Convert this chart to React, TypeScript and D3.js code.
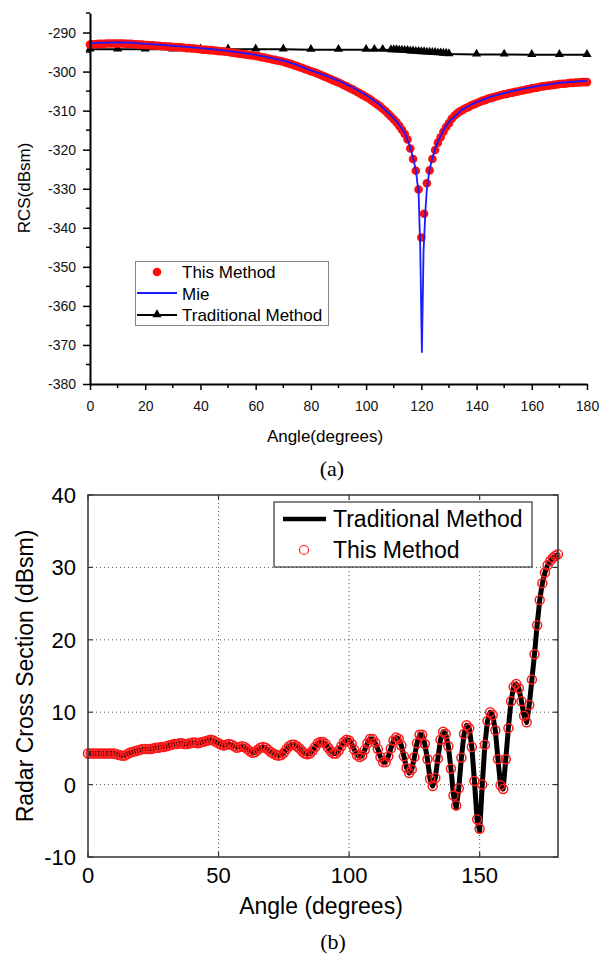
import React, { useRef, useEffect } from "react";
import * as d3 from "d3";

// ---------- (a) data ----------
const anglesA = d3.range(0, 181);
const thisMethodA = [
  -293.1, -293.0, -293.0, -292.9, -292.9, -292.9, -292.8, -292.8, -292.8, -292.8,
  -292.8, -292.8, -292.8, -292.9, -292.9, -292.9, -293.0, -293.0, -293.1, -293.1,
  -293.2, -293.2, -293.3, -293.3, -293.4, -293.4, -293.5, -293.5, -293.6, -293.6,
  -293.7, -293.7, -293.8, -293.8, -293.9, -294.0, -294.0, -294.1, -294.1, -294.2,
  -294.3, -294.4, -294.4, -294.5, -294.5, -294.6, -294.7, -294.8, -294.8, -294.9,
  -295.0, -295.1, -295.2, -295.3, -295.4, -295.5, -295.6, -295.7, -295.8, -295.9,
  -296.0, -296.1, -296.3, -296.4, -296.6, -296.7, -296.9, -297.0, -297.2, -297.3,
  -297.5, -297.7, -297.9, -298.1, -298.4, -298.6, -298.9, -299.1, -299.4, -299.6,
  -299.9, -300.1, -300.4, -300.7, -301.0, -301.3, -301.6, -301.9, -302.2, -302.5,
  -302.8, -303.1, -303.5, -303.8, -304.2, -304.5, -304.9, -305.3, -305.7, -306.1,
  -306.5, -306.9, -307.4, -307.9, -308.4, -308.9, -309.5, -310.1, -310.8, -311.5,
  -312.2, -313.0, -313.9, -314.9, -316.0, -317.4, -319.7, -322.4, -325.4, -330.2,
  -342.5, -336.4, -328.6, -325.3, -322.4, -320.1, -318.2, -316.8, -315.4, -314.2,
  -313.2, -312.1, -311.3, -310.7, -310.2, -309.8, -309.4, -309.1, -308.7, -308.4,
  -308.1, -307.8, -307.5, -307.3, -307.0, -306.8, -306.6, -306.4, -306.2, -306.0,
  -305.8, -305.7, -305.5, -305.4, -305.2, -305.1, -304.9, -304.8, -304.6, -304.5,
  -304.3, -304.2, -304.1, -303.9, -303.8, -303.7, -303.6, -303.5, -303.4, -303.3,
  -303.2, -303.1, -303.1, -303.0, -302.9, -302.9, -302.8, -302.8, -302.7, -302.7, -302.7,
];
const mieAngles = [
  0, 5, 10, 15, 20, 25, 30, 35, 40, 45, 50, 55, 60, 65, 70, 75, 80, 85, 90, 95, 100,
  105, 110, 112, 114, 116, 117, 118, 119, 119.6, 120.2, 120.8, 121.5, 122, 123, 124,
  125, 126, 128, 130, 135, 140, 145, 150, 155, 160, 165, 170, 175, 180,
];
const mieValues = [
  -292.8, -292.6, -292.5, -292.6, -292.9, -293.1, -293.4, -293.7, -294.0, -294.3,
  -294.7, -295.2, -295.7, -296.4, -297.2, -298.3, -299.7, -300.9, -302.3, -304.0,
  -306.0, -308.5, -311.9, -313.6, -315.7, -319.4, -322.1, -325.2, -331.0, -345.0,
  -372.0, -346.0, -335.5, -330.0, -325.0, -322.1, -319.8, -317.9, -315.0, -312.9,
  -309.6, -307.8, -306.5, -305.5, -304.7, -304.0, -303.4, -302.9, -302.6, -302.3,
];
const tradAnglesA = [
  0, 10, 20, 30, 40, 50, 60, 70, 80, 90, 100, 103, 106, 109, 110, 111, 112, 113, 114,
  115, 116, 117, 118, 119, 120, 121, 122, 123, 124, 125, 126, 127, 128, 129, 130, 140,
  150, 160, 170, 180,
];
const tradValuesA = [
  -294.3, -294.3, -294.3, -294.3, -294.3, -294.3, -294.3, -294.3, -294.4, -294.4,
  -294.4, -294.4, -294.4, -294.5, -294.5, -294.5, -294.6, -294.6, -294.7, -294.7,
  -294.8, -294.8, -294.9, -294.9, -295.0, -295.0, -295.1, -295.1, -295.2, -295.2,
  -295.3, -295.3, -295.4, -295.4, -295.5, -295.6, -295.6, -295.7, -295.7, -295.7,
];
const xTicksA = d3.range(0, 181, 20);
const yTicksA = d3.range(-380, -289, 10);

// ---------- (b) data ----------
const anglesB = d3.range(0, 181);
const traditionalB = [
  4.3, 4.3, 4.3, 4.3, 4.3, 4.3, 4.3, 4.3, 4.3, 4.3,
  4.3, 4.2, 4.1, 4.0, 4.0, 4.2, 4.4, 4.5, 4.6, 4.7,
  4.8, 4.9, 4.9, 4.9, 4.9, 5.0, 5.1, 5.1, 5.2, 5.2,
  5.3, 5.4, 5.5, 5.6, 5.6, 5.7, 5.7, 5.6, 5.6, 5.7,
  5.8, 5.8, 5.7, 5.8, 5.9, 6.0, 6.1, 6.2, 6.1, 5.9,
  5.7, 5.5, 5.4, 5.5, 5.6, 5.5, 5.3, 5.1, 5.2, 5.3,
  5.2, 4.9, 4.6, 4.4, 4.5, 4.8, 5.1, 5.2, 5.1, 4.8,
  4.5, 4.3, 4.1, 4.0, 4.1, 4.4, 4.9, 5.3, 5.5, 5.5,
  5.3, 5.0, 4.6, 4.3, 4.2, 4.3, 4.7, 5.2, 5.7, 5.9,
  5.9, 5.6, 5.1, 4.6, 4.3, 4.3, 4.7, 5.3, 5.9, 6.2,
  6.1, 5.6, 4.8, 4.1, 3.8, 4.0, 4.8, 5.7, 6.3, 6.3,
  5.8, 4.9, 3.8, 3.1, 3.1, 3.9, 5.0, 6.1, 6.5, 6.3,
  5.4, 3.9, 2.3, 1.6, 2.1, 3.8, 5.7, 6.9, 6.9, 5.6,
  3.5, 0.8, -0.2, 0.9, 3.6, 6.2, 7.3, 7.0, 5.3, 2.2,
  -1.5, -3.2, -0.5, 3.7, 7.0, 8.2, 7.8, 5.2, 0.5, -4.9,
  -6.4, 0.0, 5.5, 8.8, 10.0, 9.6, 7.5, 3.5, -0.1, -0.6,
  3.5, 7.8, 11.5, 13.5, 13.9, 13.3, 11.5, 9.5, 8.6, 11.0,
  14.5, 18.0, 22.0, 25.5, 27.8, 29.3, 30.3, 30.9, 31.3, 31.6, 31.8,
];
const thisMethodB = [
  4.3, 4.3, 4.3, 4.3, 4.3, 4.3, 4.3, 4.3, 4.3, 4.3,
  4.3, 4.2, 4.1, 4.0, 4.0, 4.2, 4.4, 4.5, 4.6, 4.7,
  4.8, 4.9, 4.9, 4.9, 4.9, 5.0, 5.1, 5.1, 5.2, 5.2,
  5.3, 5.4, 5.5, 5.6, 5.6, 5.7, 5.7, 5.6, 5.6, 5.7,
  5.8, 5.8, 5.7, 5.8, 5.9, 6.0, 6.1, 6.2, 6.1, 5.9,
  5.7, 5.5, 5.4, 5.5, 5.6, 5.5, 5.3, 5.1, 5.2, 5.3,
  5.2, 4.9, 4.6, 4.4, 4.5, 4.8, 5.1, 5.2, 5.1, 4.8,
  4.5, 4.3, 4.1, 4.0, 4.1, 4.4, 4.9, 5.3, 5.5, 5.5,
  5.3, 5.0, 4.6, 4.3, 4.2, 4.3, 4.7, 5.2, 5.7, 5.9,
  5.9, 5.6, 5.1, 4.6, 4.3, 4.3, 4.7, 5.3, 5.9, 6.2,
  6.1, 5.6, 4.8, 4.1, 3.8, 4.0, 4.8, 5.7, 6.3, 6.3,
  5.8, 4.9, 3.8, 3.1, 3.1, 3.9, 5.0, 6.1, 6.5, 6.3,
  5.4, 3.9, 2.3, 1.6, 2.1, 3.8, 5.7, 6.9, 6.9, 5.6,
  3.5, 0.8, -0.2, 0.9, 3.6, 6.2, 7.3, 7.0, 5.3, 2.2,
  -1.5, -2.9, -0.5, 3.7, 7.0, 8.2, 7.8, 5.2, 0.5, -4.8,
  -6.1, 0.0, 5.5, 8.8, 10.0, 9.6, 7.5, 3.5, -0.1, -0.6,
  3.5, 7.8, 11.5, 13.5, 13.9, 13.3, 11.5, 9.5, 8.6, 11.0,
  14.5, 18.0, 22.0, 25.5, 27.8, 29.3, 30.3, 30.9, 31.3, 31.6, 31.8,
];
const xTicksB = [0, 50, 100, 150];
const yTicksB = [-10, 0, 10, 20, 30, 40];

const SANS = "'Liberation Sans', Arial, sans-serif";
const SERIF = "'Liberation Serif', 'Times New Roman', serif";

function App() {
  const SVG = useRef<SVGSVGElement>(null);

  useEffect(() => {
    const svg = d3.select(SVG.current);
    svg.selectAll("*").remove();

    // ================= chart (a) =================
    const xA = d3.scaleLinear().domain([0, 180]).range([90, 587]);
    const yA = d3.scaleLinear().domain([-380, -285]).range([384, 13]);
    const ga = svg.append("g");

    // traditional line + triangles
    const tradPts = tradAnglesA.map((a, i) => [a, tradValuesA[i]] as [number, number]);
    ga.append("path")
      .attr("d", d3.line<[number, number]>().x(d => xA(d[0])).y(d => yA(d[1]))(tradPts))
      .attr("fill", "none")
      .attr("stroke", "#000")
      .attr("stroke-width", 2);
    const tri = d3.symbol().type(d3.symbolTriangle).size(36);
    ga.selectAll(".tri")
      .data(tradPts)
      .enter()
      .append("path")
      .attr("d", tri)
      .attr("transform", d => `translate(${xA(d[0])},${yA(d[1]) - 0.5})`)
      .attr("fill", "#000");

    // red dots (this method)
    ga.selectAll(".dotA")
      .data(anglesA)
      .enter()
      .append("circle")
      .attr("cx", d => xA(d))
      .attr("cy", (d, i) => yA(thisMethodA[i]))
      .attr("r", 4.3)
      .attr("fill", "#ff0d0d");

    // Mie
    const miePts = mieAngles.map((a, i) => [a, mieValues[i]] as [number, number]);
    ga.append("path")
      .attr("d", d3.line<[number, number]>().x(d => xA(d[0])).y(d => yA(d[1]))(miePts))
      .attr("fill", "none")
      .attr("stroke", "#1a1aff")
      .attr("stroke-width", 1.8);

    // axes
    const fmt = (d: d3.NumberValue) => String(d);
    const xAxisA = ga.append("g").attr("transform", "translate(0,384)");
    xAxisA.call(
      d3.axisBottom(xA).tickValues(xTicksA).tickFormat(fmt).tickSize(6).tickSizeOuter(0).tickPadding(11)
    );
    xAxisA.selectAll(".minor")
      .data(d3.range(10, 180, 20))
      .enter()
      .append("line")
      .attr("x1", d => xA(d))
      .attr("x2", d => xA(d))
      .attr("y1", 0)
      .attr("y2", 4)
      .attr("stroke", "#000")
      .attr("stroke-width", 1.5);
    const yAxisA = ga.append("g").attr("transform", "translate(90,0)");
    yAxisA.call(
      d3.axisLeft(yA).tickValues(yTicksA).tickFormat(fmt).tickSize(7).tickSizeOuter(0).tickPadding(7)
    );
    yAxisA.selectAll(".minor")
      .data(d3.range(-375, -284, 10))
      .enter()
      .append("line")
      .attr("x1", 0)
      .attr("x2", -4)
      .attr("y1", d => yA(d))
      .attr("y2", d => yA(d))
      .attr("stroke", "#000")
      .attr("stroke-width", 1.5);
    [xAxisA, yAxisA].forEach(ax => {
      ax.select(".domain").attr("stroke-width", 2);
      ax.selectAll(".tick line").attr("stroke-width", 1.5);
      ax.selectAll("text").attr("font-size", 14).attr("font-family", SANS).attr("fill", "#111");
    });

    ga.append("text")
      .attr("x", 325)
      .attr("y", 442)
      .attr("text-anchor", "middle")
      .attr("font-family", SANS)
      .attr("font-size", 17)
      .text("Angle(degrees)");
    ga.append("text")
      .attr("transform", "translate(30,188) rotate(-90)")
      .attr("text-anchor", "middle")
      .attr("font-family", SANS)
      .attr("font-size", 17)
      .text("RCS(dBsm)");

    // legend (a)
    const la = ga.append("g");
    la.append("rect")
      .attr("x", 135.5)
      .attr("y", 261.5)
      .attr("width", 193)
      .attr("height", 64)
      .attr("fill", "#fff")
      .attr("stroke", "#888")
      .attr("stroke-width", 1);
    la.append("circle").attr("cx", 157).attr("cy", 272).attr("r", 4.3).attr("fill", "#ff0d0d");
    la.append("line")
      .attr("x1", 137).attr("x2", 177).attr("y1", 293).attr("y2", 293)
      .attr("stroke", "#1a1aff").attr("stroke-width", 1.8);
    la.append("line")
      .attr("x1", 137).attr("x2", 177).attr("y1", 315).attr("y2", 315)
      .attr("stroke", "#000").attr("stroke-width", 2);
    la.append("path").attr("d", tri).attr("transform", "translate(157,314.5)");
    la.selectAll(".lt")
      .data(["This Method", "Mie", "Traditional Method"])
      .enter()
      .append("text")
      .attr("x", 182)
      .attr("y", (d, i) => 278 + i * 21.5)
      .attr("font-family", SANS)
      .attr("font-size", 17)
      .text(d => d);

    svg.append("text")
      .attr("x", 332)
      .attr("y", 476)
      .attr("text-anchor", "middle")
      .attr("font-family", SERIF)
      .attr("font-size", 22)
      .text("(a)");

    // ================= chart (b) =================
    const xB = d3.scaleLinear().domain([0, 180]).range([88, 558]);
    const yB = d3.scaleLinear().domain([-10, 40]).range([857, 495]);
    const gb = svg.append("g");

    // grid
    gb.selectAll(".gx")
      .data(xTicksB.slice(1))
      .enter()
      .append("line")
      .attr("x1", d => xB(d)).attr("x2", d => xB(d))
      .attr("y1", 495).attr("y2", 857)
      .attr("stroke", "#555").attr("stroke-width", 1).attr("stroke-dasharray", "1,3");
    gb.selectAll(".gy")
      .data(yTicksB.slice(1, -1))
      .enter()
      .append("line")
      .attr("x1", 88).attr("x2", 558)
      .attr("y1", d => yB(d)).attr("y2", d => yB(d))
      .attr("stroke", "#555").attr("stroke-width", 1).attr("stroke-dasharray", "1,3");

    // inward ticks
    xTicksB.forEach(t => {
      gb.append("line").attr("x1", xB(t)).attr("x2", xB(t)).attr("y1", 857).attr("y2", 852)
        .attr("stroke", "#333").attr("stroke-width", 1.2);
      gb.append("line").attr("x1", xB(t)).attr("x2", xB(t)).attr("y1", 495).attr("y2", 500)
        .attr("stroke", "#333").attr("stroke-width", 1.2);
    });
    yTicksB.forEach(t => {
      gb.append("line").attr("x1", 88).attr("x2", 93).attr("y1", yB(t)).attr("y2", yB(t))
        .attr("stroke", "#333").attr("stroke-width", 1.2);
      gb.append("line").attr("x1", 558).attr("x2", 553).attr("y1", yB(t)).attr("y2", yB(t))
        .attr("stroke", "#333").attr("stroke-width", 1.2);
    });

    // traditional line
    gb.append("path")
      .datum(anglesB)
      .attr("d", d3.line<number>().x(d => xB(d)).y((d, i) => yB(traditionalB[i])))
      .attr("fill", "none")
      .attr("stroke", "#000")
      .attr("stroke-width", 5)
      .attr("stroke-linejoin", "round");

    // this method circles
    gb.selectAll(".cb")
      .data(anglesB)
      .enter()
      .append("circle")
      .attr("cx", d => xB(d))
      .attr("cy", (d, i) => yB(thisMethodB[i]))
      .attr("r", 4.5)
      .attr("fill", "none")
      .attr("stroke", "#ff1a1a")
      .attr("stroke-width", 1.5);

    // frame
    gb.append("rect")
      .attr("x", 88).attr("y", 495).attr("width", 470).attr("height", 362)
      .attr("fill", "none").attr("stroke", "#333").attr("stroke-width", 1.5);

    // tick labels
    gb.selectAll(".xl")
      .data(xTicksB)
      .enter()
      .append("text")
      .attr("x", d => xB(d))
      .attr("y", 883)
      .attr("text-anchor", "middle")
      .attr("font-family", SANS)
      .attr("font-size", 22)
      .text(d => d);
    gb.selectAll(".yl")
      .data(yTicksB)
      .enter()
      .append("text")
      .attr("x", 76)
      .attr("y", d => yB(d))
      .attr("dy", "0.36em")
      .attr("text-anchor", "end")
      .attr("font-family", SANS)
      .attr("font-size", 22)
      .text(d => d);

    gb.append("text")
      .attr("x", 321)
      .attr("y", 914)
      .attr("text-anchor", "middle")
      .attr("font-family", SANS)
      .attr("font-size", 23)
      .text("Angle (degrees)");
    gb.append("text")
      .attr("transform", "translate(33,676) rotate(-90)")
      .attr("text-anchor", "middle")
      .attr("font-family", SANS)
      .attr("font-size", 23)
      .text("Radar Cross Section (dBsm)");

    // legend (b)
    const lb = gb.append("g");
    lb.append("rect")
      .attr("x", 274).attr("y", 502).attr("width", 258).attr("height", 65)
      .attr("fill", "#fff").attr("stroke", "#333").attr("stroke-width", 1.2);
    lb.append("line")
      .attr("x1", 283).attr("x2", 326).attr("y1", 519).attr("y2", 519)
      .attr("stroke", "#000").attr("stroke-width", 4.5);
    lb.append("circle")
      .attr("cx", 304).attr("cy", 550).attr("r", 4.5)
      .attr("fill", "none").attr("stroke", "#ff1a1a").attr("stroke-width", 1.2);
    lb.selectAll(".lt")
      .data(["Traditional Method", "This Method"])
      .enter()
      .append("text")
      .attr("x", 333)
      .attr("y", (d, i) => 527 + i * 31)
      .attr("font-family", SANS)
      .attr("font-size", 23)
      .text(d => d);

    svg.append("text")
      .attr("x", 333)
      .attr("y", 949)
      .attr("text-anchor", "middle")
      .attr("font-family", SERIF)
      .attr("font-size", 22)
      .text("(b)");
  }, []);

  return (
    <svg
      ref={SVG}
      width={603}
      height={957}
      style={{ position: "absolute", left: 0, top: 0, background: "#fff" }}
    />
  );
}

export default App;
